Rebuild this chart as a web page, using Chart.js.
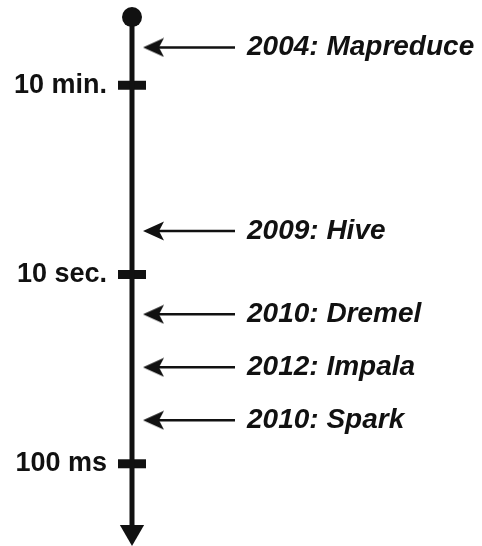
<!DOCTYPE html>
<html>
<head>
<meta charset="utf-8">
<script src="https://cdn.jsdelivr.net/npm/chart.js@4.4.1/dist/chart.umd.min.js"></script>
<style>
  html, body { margin: 0; padding: 0; background: #fff; }
  canvas { display: block; }
</style>
</head>
<body>
<canvas id="timeline" width="482" height="546"></canvas>
<script>
// ── Data: latency levels (1 = 100 ms, 2 = 10 sec., 3 = 10 min.) ──
var tickLabels = ['100 ms', '10 sec.', '10 min.'];
var tickLevels = [1, 2, 3];

var systems = ['Mapreduce', 'Hive', 'Dremel', 'Impala', 'Spark'];
var years = [2004, 2009, 2010, 2012, 2010];
var levels = [3.2, 2.23, 1.79, 1.51, 1.23];

// ends of the time arrow
var arrowTop = 3.36;
var arrowBottom = 0.64;

// ── Layout ──
var SPINE_X = 132;
var HEAD_X = 154;
var TAIL_X = 235;
var Y_MIN = 0.704;
var Y_MAX = 3.312;
var INK = '#111';

var eventLabels = systems.map(function(s, i) { return years[i] + ': ' + s; });

// notched arrowhead pointing left, used as a point style
var head = document.createElement('canvas');
head.width = 22;
head.height = 20;
(function() {
  var c = head.getContext('2d');
  c.fillStyle = INK;
  c.beginPath();
  c.moveTo(0, 10);
  c.lineTo(21, 0.5);
  c.lineTo(16, 10);
  c.lineTo(21, 19.5);
  c.closePath();
  c.fill();
})();

var datasets = [
  {
    // main time axis with dot on top and arrowhead at the bottom
    data: [{ x: SPINE_X, y: arrowTop }, { x: SPINE_X, y: arrowBottom }],
    borderColor: INK,
    backgroundColor: INK,
    borderWidth: 5,
    pointStyle: ['circle', 'triangle'],
    pointRadius: [10, 14],
    pointBorderWidth: 0,
    rotation: [0, 180]
  },
  {
    // tick bars across the axis
    data: tickLevels.map(function(v) { return { x: SPINE_X, y: v }; }),
    showLine: false,
    borderColor: INK,
    pointStyle: 'line',
    pointRadius: 14,
    pointBorderWidth: 9
  }
];

levels.forEach(function(v) {
  datasets.push({
    data: [{ x: TAIL_X, y: v }, { x: HEAD_X, y: v }],
    borderColor: INK,
    backgroundColor: INK,
    borderWidth: 2.5,
    pointStyle: [false, head],
    pointRadius: [0, 10]
  });
});

datasets.forEach(function(d) { d.clip = false; });

new Chart(document.getElementById('timeline'), {
  type: 'scatter',
  data: { datasets: datasets },
  options: {
    responsive: false,
    animation: false,
    showLine: true,
    layout: { padding: 0 },
    plugins: { legend: { display: false }, tooltip: { enabled: false } },
    scales: {
      x: { display: false, min: 117, max: 240 },
      y: {
        position: 'left',
        min: Y_MIN,
        max: Y_MAX,
        grid: { display: false, drawTicks: false },
        border: { display: false },
        ticks: {
          autoSkip: false,
          padding: 10,
          color: INK,
          font: { family: 'Liberation Sans', size: 27, weight: 'bold' },
          callback: function(v, i) { return tickLabels[i]; }
        },
        afterBuildTicks: function(s) {
          s.ticks = tickLevels.map(function(v) { return { value: v }; });
        },
        afterFit: function(s) { s.width = 117; }
      },
      y2: {
        position: 'right',
        min: Y_MIN,
        max: Y_MAX,
        grid: { display: false, drawTicks: false },
        border: { display: false },
        ticks: {
          autoSkip: false,
          padding: 7,
          color: INK,
          font: { family: 'Liberation Sans', size: 28, weight: 'bold', style: 'italic' },
          callback: function(v, i) { return eventLabels[i]; }
        },
        afterBuildTicks: function(s) {
          s.ticks = levels.map(function(v) { return { value: v }; });
        },
        afterFit: function(s) { s.width = 242; }
      }
    }
  }
});
</script>
</body>
</html>
